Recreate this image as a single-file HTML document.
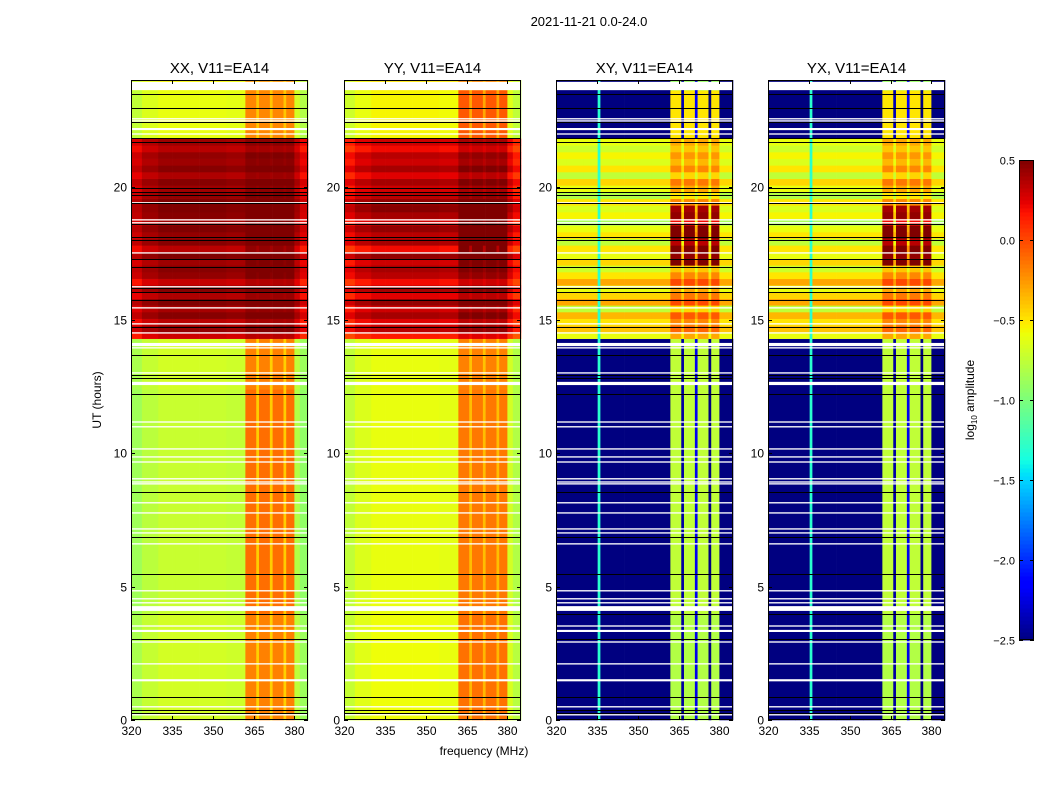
<!DOCTYPE html>
<html><head><meta charset="utf-8">
<style>
body{margin:0;background:#fff;}
svg text{font-family:"Liberation Sans",sans-serif;fill:#000;}
</style></head>
<body>
<svg id="fig" width="1050" height="800" viewBox="0 0 1050 800" xmlns="http://www.w3.org/2000/svg">
<rect width="1050" height="800" fill="#fff"/>
<text x="589" y="26" font-size="13" text-anchor="middle">2021-11-21 0.0-24.0</text>
<text x="484" y="755" font-size="12" text-anchor="middle">frequency (MHz)</text>
<text x="0" y="0" font-size="12" text-anchor="middle" transform="translate(101,400) rotate(-90)">UT (hours)</text>
<g id="panels"></g>
<g id="cbar"></g>
<text x="0" y="0" font-size="12" text-anchor="middle" transform="translate(974,400) rotate(-90)">log<tspan font-size="8" dy="3">10</tspan><tspan dy="-3"> amplitude</tspan></text>
</svg>
<script>
// ---- data ----
const panelTitles = ["XX, V11=EA14","YY, V11=EA14","XY, V11=EA14","YX, V11=EA14"];
const freqEdges = [320,324,330,335.3,336.3,345,355,362,366,367,371,372,376,377,380,382,385];
const xxColWeight = [0,0,0,0,0,0,0,1,0.5,1,0.5,1,0.5,1,0,0];
const xxColEdge = [-0.15,-0.05,0,0,0,0,-0.02,0,0,0,0,0,0,0,-0.08,-0.2];
const xyColWeight = [0,0,0,0.75,0,0,0,1,0.15,1,0.25,1,0.05,1,0,0];
const xyColEdge = [0,0,0,0,0,0,0,0,0,0,0,0,0,0,0,0];
const xyColCap = [0.5,0.5,0.5,-1.3,0.5,0.5,0.5,0.5,0.5,0.5,0.5,0.5,0.5,0.5,0.5,0.5];
const noCap = [0.5,0.5,0.5,0.5,0.5,0.5,0.5,0.5,0.5,0.5,0.5,0.5,0.5,0.5,0.5,0.5];
const segStart = [0,4.0,12.4,21.8,23.62];
const segEnd = [4.0,12.4,14.3,23.62,24];
const xxSegBase = [-0.68,-0.72,-0.68,-0.6,-0.55];
const xxSegBoost = [0.5,0.6,0.5,0.4,0.3];
const yySegBase = [-0.58,-0.6,-0.6,-0.55,-0.5];
const yySegBoost = [0.45,0.45,0.42,0.5,0.3];
const xySegBase = [-2.7,-2.7,-2.7,-2.7,-2.7];
const xySegBoost = [1.9,1.95,1.95,2.2,1.8];
const hiStart = 14.3, hiStep = 0.25;
const xxHighBase = [0.3,0.45,0.35,0.48,0.4,0.5,0.38,0.48,0.32,0.45,0.48,0.42,0.5,0.35,0.48,0.45,0.5,0.42,0.48,0.5,0.5,0.45,0.42,0.48,0.38,0.48,0.42,0.45,0.35,0.42];
const xxHighBoost = [0.05,0.05,0.05,0.05,0.05,0.05,0.05,0.05,0.05,0.05,0.05,0.1,0.1,0.1,0.1,0.1,0.1,0.1,0.1,0.1,0.1,0.05,0.05,0.05,0.05,0.05,0.05,0.05,0.05,0.05];
const yyHighBase = [0.15,0.35,0.25,0.4,0.3,0.45,0.25,0.4,0.2,0.35,0.4,0.3,0.45,0.2,0.4,0.35,0.45,0.3,0.4,0.48,0.45,0.35,0.3,0.4,0.25,0.4,0.3,0.35,0.2,0.3];
const yyHighBoost = [0.1,0.1,0.1,0.1,0.1,0.1,0.1,0.1,0.1,0.1,0.1,0.3,0.3,0.3,0.3,0.3,0.3,0.3,0.3,0.3,0.3,0.1,0.1,0.1,0.1,0.1,0.1,0.1,0.1,0.1];
const xyHighBase = [-0.6,-0.4,-0.5,-0.35,-0.75,-0.3,-0.45,-0.6,-0.3,-0.5,-0.7,-0.45,-0.6,-0.5,-0.75,-0.5,-0.6,-0.85,-0.55,-0.65,-0.5,-0.8,-0.6,-0.45,-0.75,-0.5,-0.65,-0.55,-0.7,-0.6];
const xyHighBoost = [0.3,0.3,0.3,0.3,0.3,0.3,0.3,0.3,0.3,0.3,0.3,1.05,1.05,1.05,1.1,1.05,1.1,1.05,1.0,1.05,0.3,0.3,0.3,0.3,0.3,0.3,0.3,0.3,0.3,0.3];
const flagStart = [23.62,22.52,22.44,22.12,21.95,19.37,18.73,18.62,17.49,16.22,15.43,14.83,14.49,14.02,13.93,12.99,12.56,11.15,10.97,10.14,9.84,9.65,9.02,8.9,8.83,8.12,7.74,7.14,6.99,6.58,4.82,4.52,4.37,4.09,3.5,3.3,2.9,2.08,1.45,0.47,0.17];
const flagEnd = [23.93,22.57,22.49,22.2,22.0,19.42,18.78,18.67,17.54,16.27,15.48,14.88,14.54,14.14,13.98,13.04,12.68,11.2,11.02,10.19,9.89,9.7,9.07,8.95,8.88,8.17,7.79,7.19,7.04,6.63,4.87,4.57,4.42,4.27,3.55,3.38,2.95,2.13,1.53,0.52,0.22];
const blackLines = [23.47,22.95,22.42,21.82,21.67,19.95,19.8,19.69,19.39,18.6,18.11,18.0,17.29,16.99,16.2,16.05,15.75,14.74,13.69,12.94,12.82,12.22,8.55,6.86,5.47,3.97,3.04,0.86,0.37,0.26];
const xTicks = [320,335,350,365,380];
const yTicks = [0,5,10,15,20];
const cbarTicks = [0.5,0.0,-0.5,-1.0,-1.5,-2.0,-2.5];
const cbarTickLabels = ["0.5","0.0","\u22120.5","\u22121.0","\u22121.5","\u22122.0","\u22122.5"];

// ---- layout ----
const panelX = [131,344,556,768];
const PW = 177, PT = 80, PB = 720;
const FMIN = 320, FMAX = 385, VMIN = -2.5, VMAX = 0.5;
function xScale(p, f){ return panelX[p] + (f - FMIN) / (FMAX - FMIN) * PW; }
function yScale(h){ return PB - h / 24 * (PB - PT); }
function interp(pts, t){
  for (let i=1;i<pts.length;i++){ if (t<=pts[i][0]){ const a=pts[i-1], b=pts[i]; return a[1]+(b[1]-a[1])*(t-a[0])/(b[0]-a[0]); } }
  return pts[pts.length-1][1];
}
function jet(v){
  let t = (v - VMIN) / (VMAX - VMIN); t = Math.max(0, Math.min(1, t));
  const r = interp([[0,0],[0.35,0],[0.66,1],[0.89,1],[1,0.5]], t);
  const g = interp([[0,0],[0.125,0],[0.375,1],[0.64,1],[0.91,0],[1,0]], t);
  const b = interp([[0,0.5],[0.11,1],[0.34,1],[0.65,0],[1,0]], t);
  return "rgb(" + Math.round(r*255) + "," + Math.round(g*255) + "," + Math.round(b*255) + ")";
}
const NS = "http://www.w3.org/2000/svg";
function mk(tag, attrs, parent){ const e = document.createElementNS(NS, tag); for (const k in attrs) e.setAttribute(k, attrs[k]); parent.appendChild(e); return e; }

const panelsG = document.getElementById("panels");
const cfg = [
  {segB:xxSegBase, segK:xxSegBoost, hiB:xxHighBase, hiK:xxHighBoost, w:xxColWeight, e:xxColEdge, cap:noCap},
  {segB:yySegBase, segK:yySegBoost, hiB:yyHighBase, hiK:yyHighBoost, w:xxColWeight, e:xxColEdge, cap:noCap},
  {segB:xySegBase, segK:xySegBoost, hiB:xyHighBase, hiK:xyHighBoost, w:xyColWeight, e:xyColEdge, cap:xyColCap},
  {segB:xySegBase, segK:xySegBoost, hiB:xyHighBase, hiK:xyHighBoost, w:xyColWeight, e:xyColEdge, cap:xyColCap}
];
function drawRow(g, p, c, h0, h1, base, boost){
  for (let j=0;j<freqEdges.length-1;j++){
    const v = Math.min(c.cap[j], base + c.w[j]*boost + c.e[j]);
    const x0 = xScale(p, freqEdges[j]), x1 = xScale(p, freqEdges[j+1]);
    const y0 = yScale(h1), y1 = yScale(h0);
    const r = mk("rect", {x:x0, y:y0, width:(x1-x0)+0.3, height:(y1-y0)+0.3, fill:jet(v)}, g);
    
    
  }
}
for (let p=0;p<4;p++){
  const c = cfg[p];
  const g = mk("g", {}, panelsG);
  
  
  for (let s=0;s<segStart.length;s++) drawRow(g, p, c, segStart[s], segEnd[s], c.segB[s], c.segK[s]);
  for (let i=0;i<c.hiB.length;i++) drawRow(g, p, c, hiStart+i*hiStep, hiStart+(i+1)*hiStep, c.hiB[i], c.hiK[i]);
  for (let i=0;i<flagStart.length;i++){
    const r = mk("rect", {x:panelX[p], y:yScale(flagEnd[i]), width:PW, height:Math.max(1, yScale(flagStart[i])-yScale(flagEnd[i])), fill:"#fff"}, g);
    
    
  }
  for (let i=0;i<blackLines.length;i++){
    const y = Math.round(yScale(blackLines[i])) + 0.5;
    const l = mk("line", {x1:panelX[p], x2:panelX[p]+PW, y1:y, y2:y, stroke:"#000", "stroke-width":1}, g);
    
    
  }
  const fr = mk("rect", {x:panelX[p]+0.5, y:PT+0.5, width:PW-1, height:PB-PT-1, fill:"none", stroke:"#000", "stroke-width":1}, g);
  
  
  const t = mk("text", {x:panelX[p]+PW/2, y:73, "font-size":15, "text-anchor":"middle"}, g);
  t.textContent = panelTitles[p];
  
  
  for (const f of xTicks){
    const x = Math.round(xScale(p, f)) + 0.5;
    mk("line", {x1:x, x2:x, y1:PB, y2:PB-4, stroke:"#000"}, g);
    mk("line", {x1:x, x2:x, y1:PT, y2:PT+4, stroke:"#000"}, g);
    const tl = mk("text", {x:x, y:PB+15, "font-size":12, "text-anchor":"middle"}, g);
    tl.textContent = f;
    
    
  }
  for (const h of yTicks){
    const y = Math.round(yScale(h)) + 0.5;
    mk("line", {x1:panelX[p], x2:panelX[p]+4, y1:y, y2:y, stroke:"#000"}, g);
    mk("line", {x1:panelX[p]+PW, x2:panelX[p]+PW-4, y1:y, y2:y, stroke:"#000"}, g);
    const tl = mk("text", {x:panelX[p]-4, y:y+4, "font-size":12, "text-anchor":"end"}, g);
    tl.textContent = h;
    
    
  }
}
// ---- colorbar ----
const cb = document.getElementById("cbar");
const CBX = 1019, CBW = 15, CBT = 160, CBB = 640;
function cbY(v){ return CBB - (v - VMIN) / (VMAX - VMIN) * (CBB - CBT); }
for (let i=0;i<120;i++){
  const v0 = VMIN + i*(VMAX-VMIN)/120, v1 = VMIN + (i+1)*(VMAX-VMIN)/120;
  const r = mk("rect", {x:CBX, y:cbY(v1), width:CBW, height:cbY(v0)-cbY(v1)+0.5, fill:jet((v0+v1)/2)}, cb);
  
  
}
mk("rect", {x:CBX+0.5, y:CBT+0.5, width:CBW-1, height:CBB-CBT-1, fill:"none", stroke:"#000"}, cb);
for (let i=0;i<cbarTicks.length;i++){
  const y = Math.round(cbY(cbarTicks[i])) + 0.5;
  mk("line", {x1:CBX+CBW, x2:CBX+CBW-4, y1:y, y2:y, stroke:"#000"}, cb);
  mk("line", {x1:CBX, x2:CBX+4, y1:y, y2:y, stroke:"#000"}, cb);
  const tl = mk("text", {x:CBX-4, y:y+4, "font-size":11, "text-anchor":"end"}, cb);
  tl.textContent = cbarTickLabels[i];
  
  
}
</script>
</body></html>
